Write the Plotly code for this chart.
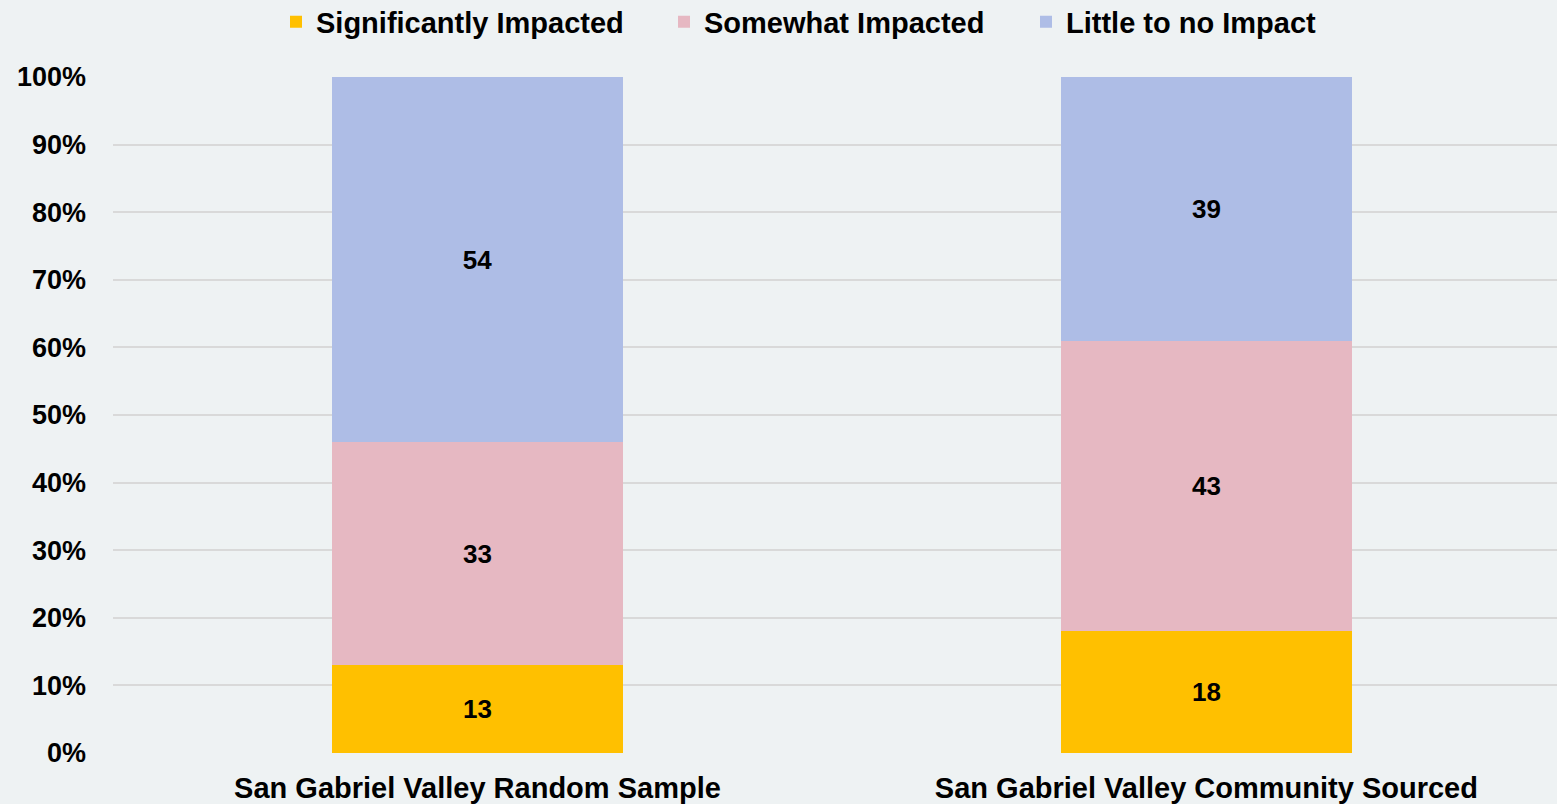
import plotly.graph_objects as go

categories = ["San Gabriel Valley Random Sample", "San Gabriel Valley Community Sourced"]
series_names = ["Significantly Impacted", "Somewhat Impacted", "Little to no Impact"]
significantly = [13, 18]
somewhat = [33, 43]
little = [54, 39]
colors = ["#FFC000", "#E6B8C2", "#AEBDE6"]

legend_ids = ["legend", "legend2", "legend3"]
legend_left_px = [290, 678, 1040]

fig = go.Figure()
for name, vals, col, lg in zip(series_names, [significantly, somewhat, little], colors, legend_ids):
    fig.add_trace(go.Bar(
        x=categories, y=vals, name=name, legend=lg, showlegend=True,
        marker=dict(color=col, line=dict(width=0)),
        text=[str(v) for v in vals],
        textposition="inside", insidetextanchor="middle", textangle=0,
        textfont=dict(family="Liberation Sans, Arial, sans-serif", size=26, color="black", weight="bold"),
    ))

legend_font = dict(family="Liberation Sans, Arial, sans-serif", size=29, weight="bold", color="black")
legend_common = dict(
    orientation="h", xref="container", yref="container", xanchor="left",
    y=1 - 22 / 804, yanchor="middle", font=legend_font, itemwidth=30,
    bgcolor="rgba(0,0,0,0)", borderwidth=0, visible=True,
)

fig.update_layout(
    showlegend=True,
    barmode="stack", barnorm="percent", bargap=0.6,
    width=1557, height=804,
    margin=dict(l=113, r=0, t=77, b=51),
    paper_bgcolor="#EEF2F3", plot_bgcolor="#EEF2F3",
    font=dict(family="Liberation Sans, Arial, sans-serif", color="black"),
    legend=dict(x=(legend_left_px[0] - 14) / 1557, **legend_common),
    legend2=dict(x=(legend_left_px[1] - 14) / 1557, **legend_common),
    legend3=dict(x=(legend_left_px[2] - 14) / 1557, **legend_common),
    xaxis=dict(
        range=[-0.5, 1.481], showgrid=False, zeroline=False, showline=False,
        ticks="", tickfont=dict(size=29, weight="bold"), ticklabelstandoff=15,
    ),
    yaxis=dict(
        range=[0, 100], dtick=10, ticksuffix="%",
        showgrid=True, gridcolor="#D9D9D9", gridwidth=2, zeroline=False, showline=False,
        tickfont=dict(size=27, weight="bold"), ticklabelstandoff=26,
    ),
)
fig.write_html("out.html", config={"displayModeBar": False},
               post_script="document.body.style.margin='0';")
